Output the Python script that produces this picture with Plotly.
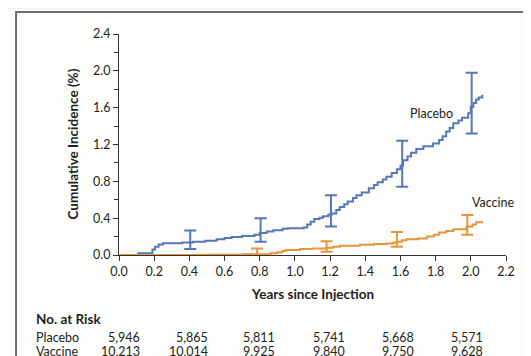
import plotly.graph_objects as go

# ---------------- data ----------------
placebo_t = [0, 0.11, 0.19, 0.205, 0.225, 0.25, 0.36, 0.42, 0.49, 0.555, 0.60, 0.64, 0.70, 0.77,
             0.80, 0.84, 0.877, 0.93, 0.96, 1.05, 1.07, 1.09, 1.11, 1.14, 1.16, 1.19, 1.21, 1.235,
             1.255, 1.28, 1.30, 1.33, 1.35, 1.38, 1.42, 1.45, 1.47, 1.50, 1.52, 1.55, 1.58, 1.60,
             1.615, 1.64, 1.66, 1.69, 1.73, 1.785, 1.82, 1.84, 1.86, 1.88, 1.90, 1.93, 1.95, 1.985,
             2.00, 2.015, 2.03, 2.045, 2.065]
placebo_v = [0, 0.02, 0.06, 0.09, 0.115, 0.127, 0.135, 0.145, 0.155, 0.17, 0.185, 0.195, 0.205, 0.22,
             0.24, 0.255, 0.27, 0.285, 0.29, 0.30, 0.33, 0.36, 0.39, 0.405, 0.42, 0.44, 0.45, 0.49,
             0.52, 0.55, 0.58, 0.62, 0.65, 0.68, 0.725, 0.76, 0.79, 0.82, 0.85, 0.89, 0.93, 0.97,
             1.03, 1.07, 1.11, 1.15, 1.18, 1.21, 1.25, 1.29, 1.34, 1.38, 1.43, 1.46, 1.49, 1.54,
             1.61, 1.65, 1.69, 1.71, 1.74]

vaccine_t = [0, 0.45, 0.70, 0.86, 0.90, 0.93, 0.95, 1.03, 1.10, 1.18, 1.22, 1.255, 1.37, 1.45, 1.52,
             1.56, 1.58, 1.61, 1.635, 1.70, 1.75, 1.79, 1.82, 1.86, 1.90, 1.975, 2.01, 2.03, 2.065]
vaccine_v = [0, 0.004, 0.008, 0.02, 0.03, 0.045, 0.055, 0.065, 0.07, 0.08, 0.09, 0.10, 0.11, 0.12, 0.125,
             0.135, 0.145, 0.16, 0.17, 0.18, 0.20, 0.22, 0.245, 0.26, 0.28, 0.31, 0.33, 0.355, 0.365]

placebo_ci_t = [0.405, 0.805, 1.205, 1.61, 2.005]
placebo_ci_mid = [0.145, 0.24, 0.45, 0.97, 1.61]
placebo_ci_low = [0.065, 0.145, 0.31, 0.74, 1.32]
placebo_ci_high = [0.265, 0.40, 0.65, 1.24, 1.98]

vaccine_ci_t = [0.785, 1.18, 1.58, 1.98]
vaccine_ci_mid = [0.005, 0.08, 0.145, 0.31]
vaccine_ci_low = [0.0, 0.035, 0.09, 0.22]
vaccine_ci_high = [0.07, 0.15, 0.25, 0.435]

x_ticks = [0.0, 0.2, 0.4, 0.6, 0.8, 1.0, 1.2, 1.4, 1.6, 1.8, 2.0, 2.2]
y_ticks = [0.0, 0.4, 0.8, 1.2, 1.6, 2.0, 2.4]

risk_times = [0.0, 0.4, 0.8, 1.2, 1.6, 2.0]
risk_placebo = ["5,946", "5,865", "5,811", "5,741", "5,668", "5,571"]
risk_vaccine = ["10,213", "10,014", "9,925", "9,840", "9,750", "9,628"]

BLUE = "#5579b6"
ORANGE = "#e6953c"
TXT = "#231f20"
FONT = "Lato"
FS = 12.5
TS = 13.5

fig = go.Figure()

fig.add_trace(go.Scatter(x=placebo_t, y=placebo_v, mode="lines", line=dict(color=BLUE, width=2, shape="hv"),
                         showlegend=False, hoverinfo="skip", cliponaxis=False))
fig.add_trace(go.Scatter(x=vaccine_t, y=vaccine_v, mode="lines", line=dict(color=ORANGE, width=2, shape="hv"),
                         showlegend=False, hoverinfo="skip", cliponaxis=False))

fig.add_trace(go.Scatter(
    x=placebo_ci_t, y=placebo_ci_mid, mode="markers", marker=dict(size=1, color=BLUE, opacity=0),
    error_y=dict(type="data", symmetric=False,
                 array=[h - m for h, m in zip(placebo_ci_high, placebo_ci_mid)],
                 arrayminus=[m - l for m, l in zip(placebo_ci_mid, placebo_ci_low)],
                 color=BLUE, thickness=2, width=6),
    showlegend=False, hoverinfo="skip", cliponaxis=False))
fig.add_trace(go.Scatter(
    x=vaccine_ci_t, y=vaccine_ci_mid, mode="markers", marker=dict(size=1, color=ORANGE, opacity=0),
    error_y=dict(type="data", symmetric=False,
                 array=[h - m for h, m in zip(vaccine_ci_high, vaccine_ci_mid)],
                 arrayminus=[m - l for m, l in zip(vaccine_ci_mid, vaccine_ci_low)],
                 color=ORANGE, thickness=2, width=6),
    showlegend=False, hoverinfo="skip", cliponaxis=False))

annotations = []
annotations.append(dict(text="Placebo", x=1.642, y=1.534, xref="x", yref="y", xanchor="left",
                        yanchor="middle", showarrow=False, font=dict(size=FS, color=TXT)))
annotations.append(dict(text="Vaccine", x=1.994, y=0.566, xref="x", yref="y", xanchor="left",
                        yanchor="middle", showarrow=False, font=dict(size=FS, color=TXT)))
annotations.append(dict(text="<b>Cumulative Incidence (%)</b>", x=0, y=0.5, xref="paper", yref="paper",
                        xshift=-47, xanchor="center", yanchor="middle", textangle=-90, showarrow=False,
                        font=dict(size=TS, color=TXT)))
annotations.append(dict(text="<b>Years since Injection</b>", x=0.5, y=0, xref="paper", yref="paper",
                        yshift=-39, xanchor="center", yanchor="middle", showarrow=False,
                        font=dict(size=TS, color=TXT)))
annotations.append(dict(text="<b>No. at Risk</b>", x=0, y=0, xref="paper", yref="paper", xshift=-85,
                        yshift=-64, xanchor="left", yanchor="middle", showarrow=False,
                        font=dict(size=TS, color=TXT)))
annotations.append(dict(text="Placebo", x=0, y=0, xref="paper", yref="paper", xshift=-85,
                        yshift=-82, xanchor="left", yanchor="middle", showarrow=False,
                        font=dict(size=FS, color=TXT)))
annotations.append(dict(text="Vaccine", x=0, y=0, xref="paper", yref="paper", xshift=-85,
                        yshift=-96, xanchor="left", yanchor="middle", showarrow=False,
                        font=dict(size=FS, color=TXT)))
shifts = [23, 21, 17, 17, 16, 14]
for t, p, v, s in zip(risk_times, risk_placebo, risk_vaccine, shifts):
    annotations.append(dict(text=p, x=t, y=0, xref="x", yref="paper", xanchor="right", xshift=s,
                            yshift=-82, yanchor="middle", showarrow=False, font=dict(size=FS, color=TXT)))
    annotations.append(dict(text=v, x=t, y=0, xref="x", yref="paper", xanchor="right", xshift=s,
                            yshift=-96, yanchor="middle", showarrow=False, font=dict(size=FS, color=TXT)))

shapes = [
    dict(type="line", xref="paper", yref="paper", x0=-0.5, x1=1.5, y0=1.1176, y1=1.1176,
         line=dict(color="#e6e6e6", width=1), layer="below"),
    dict(type="rect", xref="paper", yref="paper", x0=-0.266, x1=1.0607, y0=-0.6, y1=1.0995,
         line=dict(color="#6e6e6e", width=2), fillcolor="#fdfdfb", layer="below"),
]

# the page body has an 8px margin, so the figure origin sits at (8, 8)
fig.update_layout(
    width=531, height=356,
    margin=dict(l=111, r=33, t=26, b=109),
    paper_bgcolor="white", plot_bgcolor="rgba(0,0,0,0)",
    font=dict(family=FONT, size=FS, color=TXT),
    annotations=annotations, shapes=shapes,
    xaxis=dict(range=[0, 2.2], tickvals=x_ticks, ticktext=[f"{v:.1f}" for v in x_ticks],
               ticks="outside", ticklen=5, tickwidth=1, tickcolor="#333", showline=True,
               linecolor="#333", linewidth=1, showgrid=False, zeroline=False,
               tickfont=dict(size=FS, color=TXT)),
    yaxis=dict(range=[0, 2.4], tickvals=y_ticks, ticktext=[f"{v:.1f}" for v in y_ticks],
               ticks="outside", ticklen=5, tickwidth=1, tickcolor="#333", showline=True,
               linecolor="#333", linewidth=1, showgrid=False, zeroline=False,
               minor=dict(ticks="outside", ticklen=4, tickcolor="#333", dtick=0.2, tick0=0, showgrid=False),
               tickfont=dict(size=FS, color=TXT)),
)

fig.write_html("out.html")
